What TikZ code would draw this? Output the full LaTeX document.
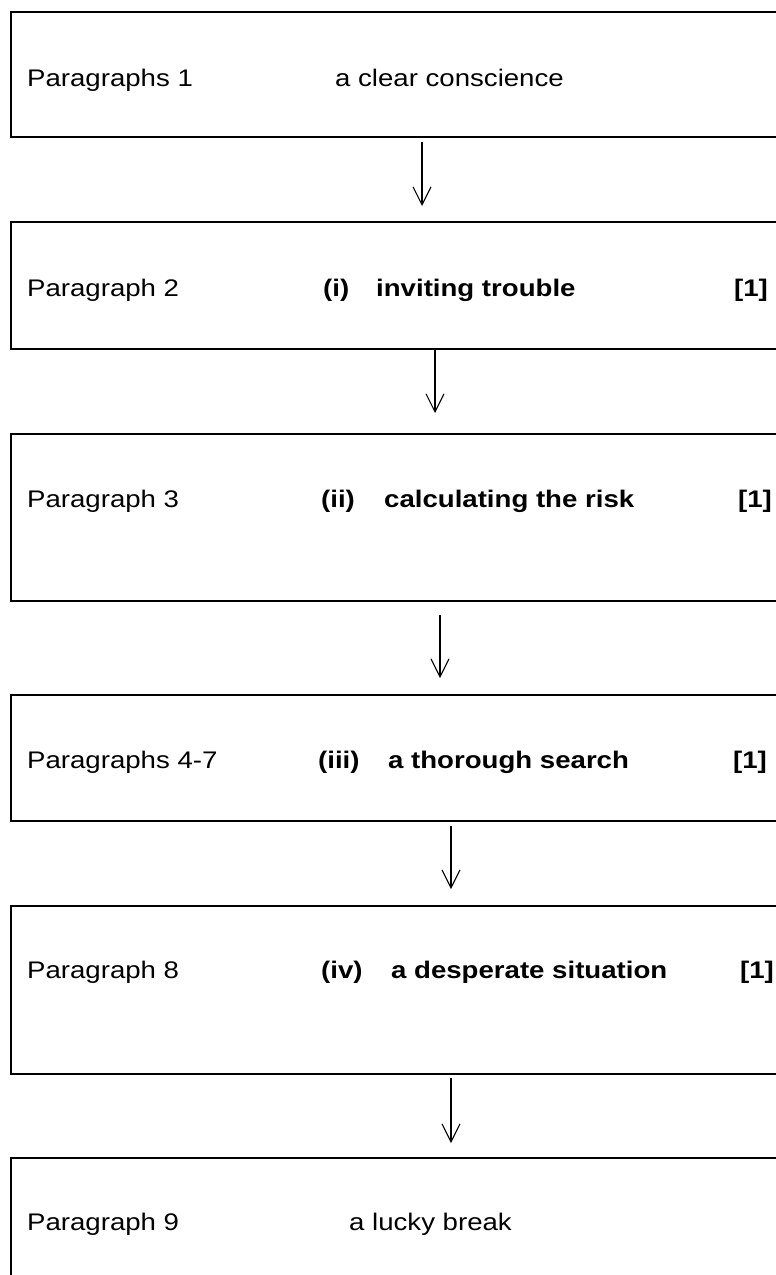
\documentclass[tikz,border=0pt]{standalone}
\usepackage{fontspec}
\setmainfont[FakeStretch=1.15]{Liberation Sans}
\usetikzlibrary{positioning,arrows.meta}

\begin{document}
\begin{tikzpicture}[
    x=1pt,
    y=-1pt,
    >={Straight Barb[length=18pt,width=18pt]},
    font=\fontsize{24}{28}\selectfont
]

\tikzstyle{box}=[
    draw,
    rectangle,
    line width=2pt,
    anchor=north west,
    minimum width=820pt,
    inner sep=0pt,
    outer sep=0pt
]
\tikzstyle{txt}=[anchor=base west, inner sep=0pt]
\tikzstyle{flow}=[->, line width=1.1pt]

\useasboundingbox (0,0) rectangle (776,1275);
\clip (0,0) rectangle (776,1275);

\node[box, minimum height=125pt] (b1) at (11,12) {};
\node[box, minimum height=127pt] (b2) at (11,222) {};
\node[box, minimum height=167pt] (b3) at (11,434) {};
\node[box, minimum height=126pt] (b4) at (11,695) {};
\node[box, minimum height=168pt] (b5) at (11,906) {};
\node[box, minimum height=200pt] (b6) at (11,1158) {};

\node[txt] (p1) at (27,86) {Paragraphs 1};
\node[txt] (s1) at (335,86) {a clear conscience};

\node[txt] (p2) at (27,296) {Paragraph 2};
\node[txt] (n2) at (323,296) {\textbf{(i)}};
\node[txt] (s2) at (376,296) {\textbf{inviting trouble}};
\node[txt] (m2) at (734,296) {\textbf{[1]}};

\node[txt] (p3) at (27,507) {Paragraph 3};
\node[txt] (n3) at (321,507) {\textbf{(ii)}};
\node[txt] (s3) at (384,507) {\textbf{calculating the risk}};
\node[txt] (m3) at (738,507) {\textbf{[1]}};

\node[txt] (p4) at (27,768) {Paragraphs 4-7};
\node[txt] (n4) at (318,768) {\textbf{(iii)}};
\node[txt] (s4) at (388,768) {\textbf{a thorough search}};
\node[txt] (m4) at (733,768) {\textbf{[1]}};

\node[txt] (p5) at (27,978) {Paragraph 8};
\node[txt] (n5) at (321,978) {\textbf{(iv)}};
\node[txt] (s5) at (391,978) {\textbf{a desperate situation}};
\node[txt] (m5) at (740,978) {\textbf{[1]}};

\node[txt] (p6) at (27,1230) {Paragraph 9};
\node[txt] (s6) at (349,1230) {a lucky break};

\draw[flow, shorten <=5pt, shorten >=16pt] ([xshift=411pt]b1.south west) -- ([xshift=411pt]b2.north west);
\draw[flow, shorten <=1pt, shorten >=21pt] ([xshift=424pt]b2.south west) -- ([xshift=424pt]b3.north west);
\draw[flow, shorten <=14pt, shorten >=17pt] ([xshift=429pt]b3.south west) -- ([xshift=429pt]b4.north west);
\draw[flow, shorten <=5pt, shorten >=17pt] ([xshift=440pt]b4.south west) -- ([xshift=440pt]b5.north west);
\draw[flow, shorten <=4pt, shorten >=15pt] ([xshift=440pt]b5.south west) -- ([xshift=440pt]b6.north west);

\end{tikzpicture}
\end{document}
